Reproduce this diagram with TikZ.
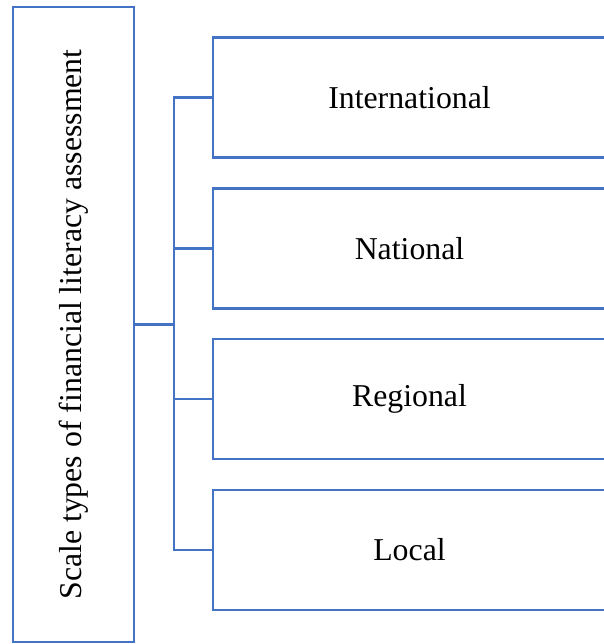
\documentclass[tikz,border=0pt]{standalone}
\usepackage{fontspec}
\setmainfont{Liberation Serif}
\usetikzlibrary{calc}
\definecolor{boxblue}{RGB}{68,114,196}

\begin{document}
\begin{tikzpicture}[x=1pt,y=-1pt,
    scalebox/.style={draw=boxblue,line width=2.5pt,inner sep=0pt,
      font=\fontsize{31.8}{36}\selectfont},
    link/.style={draw=boxblue,line width=2.5pt}]

    \useasboundingbox (0,0) rectangle (603,644);

    % left box with the rotated title
    \node[scalebox,minimum width=121pt,minimum height=635pt] (scale) at (73.5,324.5)
      {\rotatebox{90}{Scale types of financial literacy assessment}};

    % the four scale types
    \foreach \name/\lab [count=\i] in {intl/International,natl/National,regl/Regional,locl/Local}
      \node[scalebox,minimum width=393pt,minimum height=120pt] (\name)
        at (409.5,{97.5+150.8*(\i-1)}) {\lab};

    \coordinate (fork) at (174,324.5);

    \draw[link] (scale.east) -- (fork);
    \draw[link] (intl.west) -| (fork) |- (locl.west);
    \draw[link] (natl.west -| fork) -- (natl.west);
    \draw[link] (regl.west -| fork) -- (regl.west);
\end{tikzpicture}
\end{document}
